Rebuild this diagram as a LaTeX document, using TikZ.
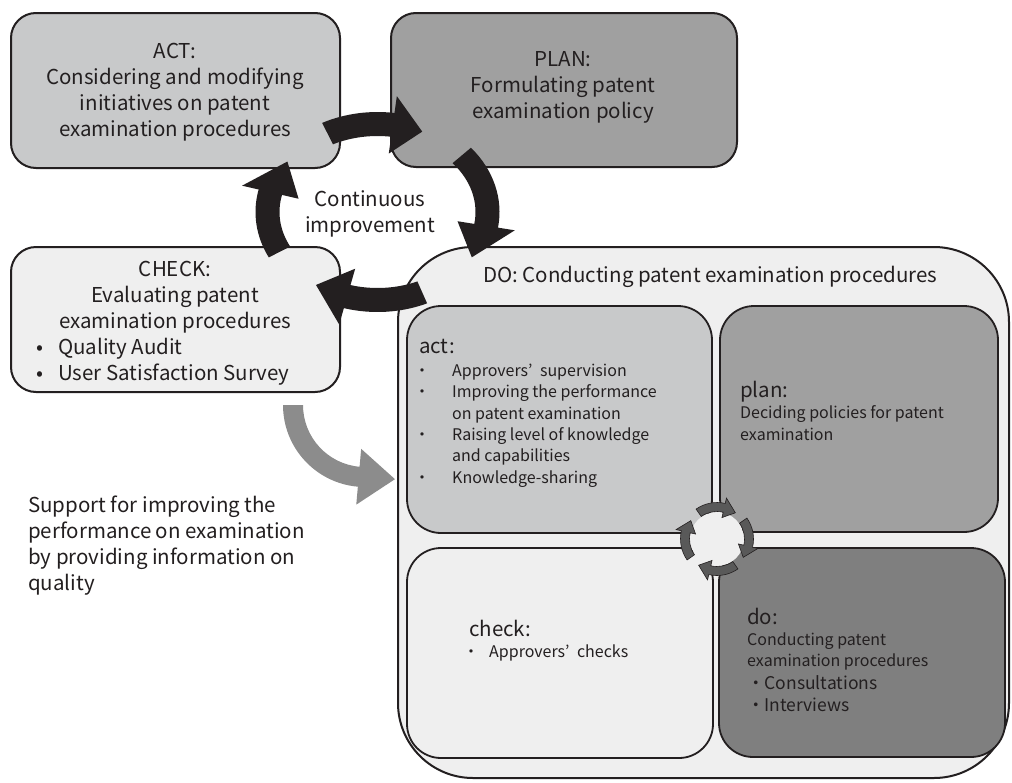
\documentclass[tikz,border=0pt]{standalone}
\usepackage{fontspec}
\setmainfont{Noto Sans CJK JP}
\usetikzlibrary{positioning}

\definecolor{ink}{HTML}{231F20}
\definecolor{actgray}{HTML}{C8C9CA}
\definecolor{plangray}{HTML}{A0A0A0}
\definecolor{checkgray}{HTML}{EFEFEF}
\definecolor{dogray}{HTML}{7F7F7F}
\definecolor{supportgray}{HTML}{8C8C8C}
\definecolor{cyclegray}{HTML}{595959}

% one black bend of the big PDCA ring: tail, base of head, tip (angles)
\newcommand\pdcaarrow[3]{%
  \fill[ink] (#1:122 and 100) arc[start angle=#1, end angle=#2, x radius=122, y radius=100]
    -- (#2:139 and 117) -- (#3:110 and 88) -- (#2:81 and 59) -- (#2:98 and 76)
    arc[start angle=#2, end angle=#1, x radius=98, y radius=76] -- cycle;}
% one grey bend of the small ring inside DO
\newcommand\smallturn[3]{%
  \filldraw[fill=cyclegray, draw=ink, line width=0.6pt] (#1:36.5) arc[start angle=#1, end angle=#2, radius=36.5]
    -- (#2:42) -- (#3:32) -- (#2:22) -- (#2:27.5) arc[start angle=#2, end angle=#1, radius=27.5] -- cycle;}
\newcommand\actdot{\makebox[38pt][l]{・}}
\newcommand\actgap{\hspace*{38pt}}

\begin{document}
\begin{tikzpicture}[x=1pt, y=-1pt,
    phase/.style={draw=ink, line width=2pt, rounded corners=25pt, inner sep=0pt},
    subphase/.style={draw=ink, line width=1.8pt, rounded corners=34pt, inner sep=0pt},
    maintext/.style={text=ink, inner sep=0pt, font=\fontsize{20.5}{26}\selectfont},
    subtext/.style={text=ink, inner sep=0pt, align=left, font=\fontsize{16}{21.3}\selectfont}]
  \path[use as bounding box, fill=white] (0,0) rectangle (1012,782);

  % DO with its own small cycle
  \node[draw=ink, line width=2pt, rounded corners=75pt, fill=checkgray,
        minimum width=611pt, minimum height=531pt] (dobox) at (703.5,512.5) {};
  \node[subphase, fill=actgray, minimum width=305pt, minimum height=227pt] (actsub) at (559.5,419.5) {};
  \node[subphase, fill=plangray, minimum width=278pt, minimum height=226pt] (plansub) at (859,419) {};
  \node[subphase, fill=checkgray, minimum width=306pt, minimum height=210pt] (checksub) at (560,653) {};
  \node[subphase, fill=dogray, minimum width=286pt, minimum height=209pt] (dosub) at (862,652.5) {};

  % big phases
  \node[phase, fill=actgray, minimum width=329pt, minimum height=155pt] (actbox) at (175.5,90.5) {};
  \node[phase, fill=plangray, minimum width=346pt, minimum height=154pt] (planbox) at (564,90) {};
  \node[phase, fill=checkgray, minimum width=329pt, minimum height=145pt] (checkbox) at (175.5,319.5) {};

  % (anchor base = baseline of the last line)
  \node[maintext, align=center, anchor=base] (acttext) at (175,136)
    {ACT:\\Considering and modifying\\initiatives on patent\\examination procedures};
  \node[maintext, align=center, anchor=base] (plantext) at (563,118)
    {PLAN:\\Formulating patent\\examination policy};
  \node[maintext, align=center, anchor=base] (checktext) at (175,328)
    {CHECK:\\Evaluating patent\\examination procedures};
  \node[maintext, align=left, anchor=base west] (checklist) at (33,380)
    {\makebox[25pt][l]{\,•}Quality Audit\\\makebox[25pt][l]{\,•}User Satisfaction Survey};
  \node[maintext, align=center, anchor=base] (improve) at (370,232) {Continuous\\improvement};
  \node[maintext, anchor=base west] (dotitle) at (483,282) {DO: Conducting patent examination procedures};
  \node[maintext, align=left, anchor=base west] (support) at (28,590)
    {Support for improving the\\performance on examination\\by providing information on\\quality};

  % inner texts
  \node[maintext, anchor=base west] (acthead) at (419,353) {act:};
  \node[subtext, anchor=base west] (actlist) at (414,483)
    {\actdot Approvers’\hspace{4pt} supervision\\\actdot Improving the performance\\\actgap on patent examination\\
     \actdot Raising level of knowledge\\\actgap and capabilities\\\actdot Knowledge-sharing};
  \node[maintext, anchor=base west] (planhead) at (740,397) {plan:};
  \node[subtext, anchor=base west] (planbody) at (740,440) {Deciding policies for patent\\examination};
  \node[maintext, anchor=base west] (checkhead) at (469,636) {check:};
  \node[subtext, anchor=base west] (checkbody) at (463,657) {\makebox[26pt][l]{・}Approvers’\hspace{4pt} checks};
  \node[maintext, anchor=base west] (dohead) at (747,624) {do:};
  \node[subtext, anchor=base west] (dobody) at (747,711)
    {Conducting patent\\examination procedures\\[1.5pt]
     {\fontsize{17.5}{21}\selectfont ・Consultations}\\{\fontsize{17.5}{21}\selectfont ・Interviews}};

  % continuous improvement ring
  \begin{scope}[shift={(377.5,212)}]
    \pdcaarrow{-117}{-82}{-66}
    \pdcaarrow{-40}{9}{31}
    \pdcaarrow{66}{106}{124}
    \pdcaarrow{153}{193}{215}
  \end{scope}

  % support from CHECK into DO
  \begin{scope}[shift={(365,405)}]
    \fill[supportgray] (180:82) arc[start angle=180, end angle=95, radius=82]
      -- (95:100) -- (68:80) -- (95:44) -- (95:62) arc[start angle=95, end angle=180, radius=62] -- cycle;
  \end{scope}

  % small ring
  \fill[checkgray] (717,539) circle[radius=27];
  \begin{scope}[shift={(717,539)}]
    \smallturn{-125}{-77}{-55}
    \smallturn{-35}{13}{35}
    \smallturn{55}{103}{125}
    \smallturn{145}{193}{215}
  \end{scope}
\end{tikzpicture}
\end{document}
